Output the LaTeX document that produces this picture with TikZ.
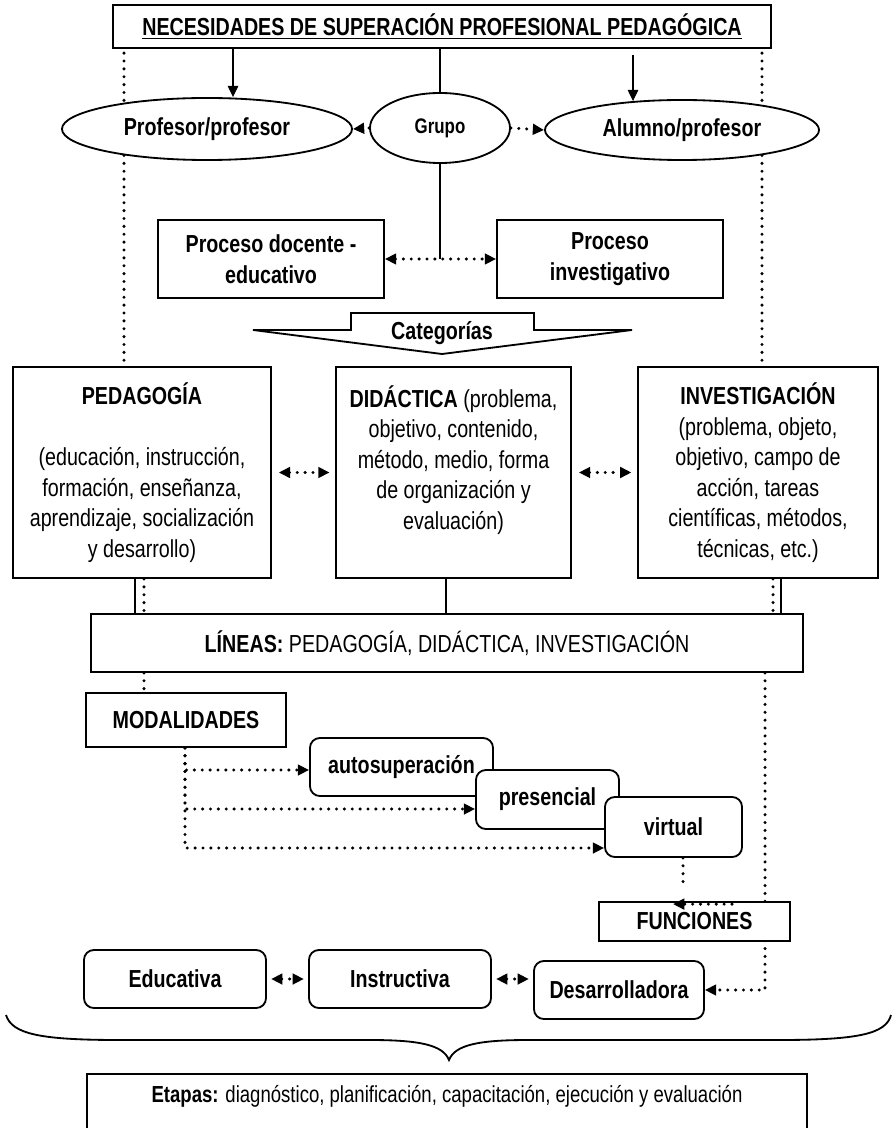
\documentclass[tikz,border=0pt]{standalone}
\usepackage{fontspec}
\setmainfont{Liberation Sans}[FakeStretch=0.8]
\usetikzlibrary{calc,positioning,arrows.meta,shapes.geometric,backgrounds}
\pgfdeclarelayer{back}
\pgfsetlayers{background,back,main}
\newcommand{\diagfont}{\fontsize{17.5}{21.7}\selectfont}

\begin{document}
\begin{tikzpicture}[x=0.025cm,y=-0.025cm,
  box/.style={
    draw,
    fill=white,
    line width=1.3pt,
    rectangle,
    align=flush center,
    inner sep=2pt,
    font=\diagfont},
  headbox/.style={box, font=\diagfont\bfseries},
  softbox/.style={headbox, rounded corners=7pt},
  oval/.style={draw, fill=white, line width=1.3pt, ellipse, inner sep=0pt, font=\diagfont\bfseries},
  link/.style={line width=0.9pt},
  linkarrow/.style={link, -{Triangle[length=8pt,width=7.5pt]}},
  dotline/.style={line width=2.4pt, line cap=round, dash pattern=on 0pt off 5.6pt},
  dotarrow/.style={dotline, -{Triangle[length=8pt,width=7.5pt]}},
  dotboth/.style={dotline, {Triangle[length=8pt,width=7.5pt]}-{Triangle[length=8pt,width=7.5pt]}},
  ]
  \useasboundingbox (0,0) rectangle (893,1128);

  \node (title) [headbox, minimum width=16.45cm, minimum height=1.075cm] at(442,26.5) {\underline{NECESIDADES DE SUPERACIÓN PROFESIONAL PEDAGÓGICA}};

  \node (profe) [oval, minimum width=7.25cm, minimum height=1.55cm] at(207,129) {Profesor/profesor};
  \node (grupo) [oval, minimum width=3.5cm, minimum height=1.75cm, font=\fontsize{15}{18}\selectfont\bfseries] at(440,128) {Grupo};
  \node (alumno) [oval, minimum width=6.85cm, minimum height=1.5cm] at(682,130) {Alumno/profesor};

  \node (docente) [headbox, minimum width=5.65cm, minimum height=1.95cm] at(271,259) {Proceso docente -\\educativo};
  \node (investig) [headbox, minimum width=5.65cm, minimum height=1.95cm] at(610,259) {Proceso\\investigativo};

  % flecha de categorias
  \draw[line width=1.3pt, fill=white] (351,313) -- (534,313) -- (534,330) -- (632,330) -- (442,354) -- (253,330) -- (351,330) -- cycle;
  \node (categ) [font=\diagfont\bfseries] at(442,333) {Categorías};

  \node (pedag) [box, text width=6.3cm, minimum height=5.275cm] at(142,472.5) {\textbf{PEDAGOGÍA}\\[21.7pt](educación, instrucción,\\formación, enseñanza,\\aprendizaje, socialización\\y desarrollo)};
  \node (didac) [box, text width=5.73cm, minimum height=5.275cm] at(453.5,472.5) {\textbf{DIDÁCTICA} (problema,\\objetivo, contenido,\\método, medio, forma\\de organización y\\evaluación)\\\mbox{}};
  \node (invest) [box, text width=5.86cm, minimum height=5.275cm] at(758,472.5) {\textbf{INVESTIGACIÓN}\\(problema, objeto,\\objetivo, campo de\\acción, tareas\\científicas, métodos,\\técnicas, etc.)};

  \node (lineas) [box, minimum width=17.8cm, minimum height=1.45cm] at(447,643) {\textbf{LÍNEAS:} PEDAGOGÍA, DIDÁCTICA, INVESTIGACIÓN};

  \node (modal) [headbox, minimum width=5cm, minimum height=1.35cm] at(186,720) {MODALIDADES};

  \node (autos) [softbox, minimum width=4.575cm, minimum height=1.45cm] at(401.5,767) {autosuperación};
  \node (presen) [softbox, minimum width=3.575cm, minimum height=1.475cm] at(547.5,799.5) {presencial};
  \node (virtu) [softbox, minimum width=3.425cm, minimum height=1.5cm] at(673.5,827) {virtual};

  \node (funcs) [headbox, minimum width=4.775cm, minimum height=0.975cm] at(694.5,921.5) {FUNCIONES};

  \node (educa) [softbox, minimum width=4.55cm, minimum height=1.45cm] at(175,979) {Educativa};
  \node (instru) [softbox, minimum width=4.55cm, minimum height=1.45cm] at(400,979) {Instructiva};
  \node (desarr) [softbox, minimum width=4.25cm, minimum height=1.45cm] at(619,990) {Desarrolladora};

  \node (etapas) [box, anchor=north, minimum width=18cm, inner ysep=0pt, text height=20pt, text depth=21pt, font=\fontsize{16.5}{19}\selectfont] at(447,1073) {\textbf{Etapas:} diagnóstico, planificación, capacitación, ejecución y evaluación};

  \begin{pgfonlayer}{back}
  \draw[dotline, shorten <=3pt] (title.south -| 124,0) -- (pedag.north -| 124,0);
  \draw[dotline, shorten <=3pt] (title.south -| 762,0) -- (invest.north -| 762,0);
  \draw[dotarrow] (lineas.south -| 765,0) |- (desarr.east);
  \end{pgfonlayer}

  \draw[linkarrow] (title.south -| 233,0) -- (profe.north -| 233,0);
  \draw[linkarrow] ($(title.south -| 633,0)+(0,6)$) -- ($(alumno.north -| 633,0)+(0,2)$);
  \draw[link] (title.south -| grupo.north) -- (grupo.north);
  \draw[link] (grupo.south) -- (grupo.south |- docente.east);
  \draw[dotarrow] (grupo.west) -- (profe.east);
  \draw[dotarrow] (grupo.east) -- (alumno.west);
  \draw[dotboth] (docente.east) -- (investig.west);

  \draw[dotboth, shorten <=5pt, shorten >=4pt] (pedag.east) -- (didac.west);
  \draw[dotboth, shorten <=5pt, shorten >=4pt] (didac.east) -- (invest.west);

  \draw[link] (pedag.south -| 135,0) -- (lineas.north -| 135,0);
  \draw[dotline] (pedag.south -| 144,0) -- (lineas.north -| 144,0);
  \draw[link] (didac.south -| 446,0) -- (lineas.north -| 446,0);
  \draw[dotline] (invest.south -| 773,0) -- (lineas.north -| 773,0);
  \draw[link] (invest.south -| 781,0) -- (lineas.north -| 781,0);
  \draw[dotline] (lineas.south -| 144,0) -- (modal.north -| 144,0);

  \draw[dotarrow] (modal.south -| 185,0) |- (autos.west |- 0,770);
  \draw[dotarrow] (modal.south -| 185,0) |- (presen.west |- 0,809);
  \draw[dotarrow] (modal.south -| 185,0) |- (virtu.west |- 0,848);

  \coordinate (virtu-end) at(683,885);
  \draw[dotline] (virtu.south -| virtu-end) -- (virtu-end);
  \draw[dotarrow] ($(funcs.north -| 732,0)+(0,3)$) -- ($(funcs.north -| 673,0)+(0,3)$);

  \draw[dotboth, shorten <=3pt, shorten >=3pt] (educa.east) -- (instru.west);
  \draw[dotboth, shorten <=3pt, shorten >=3pt] (instru.east) -- (instru.east -| desarr.west);

  % llave
  \draw[line width=1.3pt] (6,1015) .. controls (12,1034) and (40,1040) .. (120,1040) -- (370,1040) .. controls (420,1040) and (443,1045) .. (449,1060) .. controls (455,1045) and (478,1040) .. (528,1040) -- (778,1040) .. controls (858,1040) and (886,1034) .. (891,1015);

\end{tikzpicture}
\end{document}
